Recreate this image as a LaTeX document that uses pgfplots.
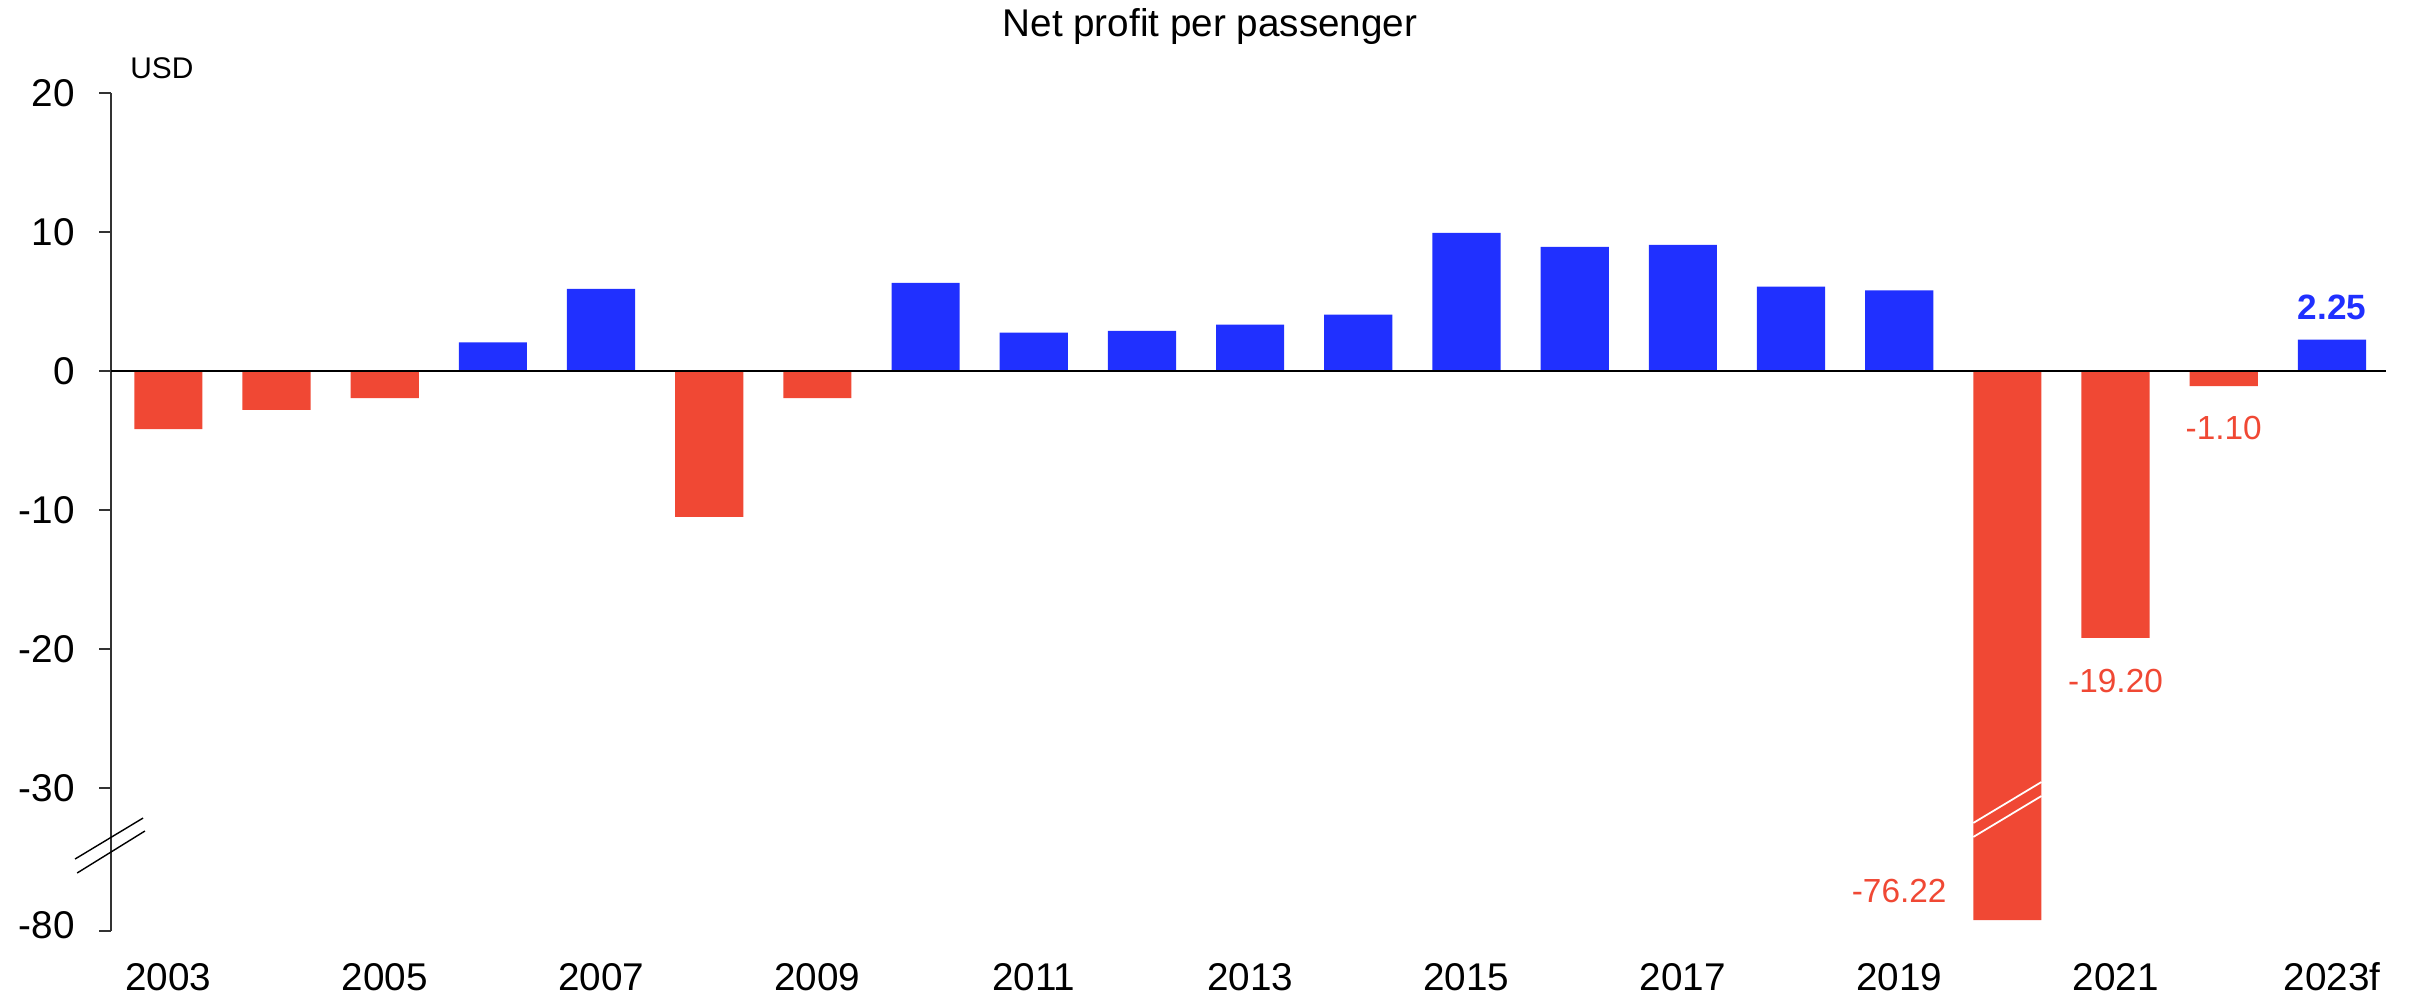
\documentclass[border=0pt]{standalone}
\usepackage{pgfplots}
\pgfplotsset{compat=1.18}
\usepackage{fontspec}
\setmainfont{Liberation Sans}
\definecolor{pblue}{RGB}{32,48,255}
\definecolor{pred}{RGB}{240,72,52}
\begin{document}
\begin{tikzpicture}
\useasboundingbox (0,0) rectangle (24.22,10.01);
\node[font=\fontsize{11pt}{13pt}\selectfont] at (12.10,9.74) {Net profit per passenger};
\node[font=\fontsize{8.5pt}{10pt}\selectfont, anchor=west] at (1.18,9.33) {USD};
\begin{axis}[
  at={(1.11cm,0.70cm)}, anchor=south west,
  scale only axis, width=22.75cm, height=8.38cm,
  xmin=-0.53, xmax=20.5,
  ymin=-80, ymax=20,
  y coord trafo/.code={\pgfmathparse{#1 < -30 ? -30+(#1+30)*0.206 : #1}},
  ytick={-80,-30,-20,-10,0,10,20},
  yticklabels={{\raisebox{0.13cm}{-80}},-30,-20,-10,0,10,20},
  xtick={0,2,...,20},
  xticklabels={2003,2005,2007,2009,2011,2013,2015,2017,2019,2021,2023f},
  axis y line=left, axis x line=bottom,
  y axis line style={-, black!80, line width=0.6pt},
  x axis line style={draw=none},
  xtick style={draw=none},
  ytick style={black!80, line width=0.6pt},
  tick align=outside, major tick length=0.12cm,
  ticklabel style={font=\fontsize{11pt}{13pt}\selectfont},
  xticklabel style={anchor=center, yshift=-0.34cm},
  yticklabel style={anchor=east, xshift=-0.12cm},
  ybar, bar width=0.63, bar shift=0pt,
  clip=false,
]
\addplot[fill=pred, draw=none] coordinates {
  (0,-4.19) (1,-2.8) (2,-1.96) (5,-10.5) (6,-1.96) (17,-76.22) (18,-19.20) (19,-1.10)
};
\addplot[fill=pblue, draw=none] coordinates {
  (3,2.05) (4,5.91) (7,6.34) (8,2.75) (9,2.89) (10,3.33) (11,4.05)
  (12,9.93) (13,8.93) (14,9.08) (15,6.06) (16,5.80) (20,2.25)
};
\draw[black, line width=0.6pt] (axis cs:-0.53,0) -- (axis cs:20.5,0);
% break marks on the y axis
\draw[black, line width=0.4pt] (rel axis cs:-0.0158,0.0859) -- (rel axis cs:0.0141,0.1348);
\draw[black, line width=0.4pt] (rel axis cs:-0.0149,0.0692) -- (rel axis cs:0.0149,0.1193);
% break marks on the 2020 bar
\draw[white, line width=0.5pt] ({axis cs:16.685,0} |- {rel axis cs:0,0.1289}) -- ({axis cs:17.315,0} |- {rel axis cs:0,0.1778});
\draw[white, line width=0.5pt] ({axis cs:16.685,0} |- {rel axis cs:0,0.1122}) -- ({axis cs:17.315,0} |- {rel axis cs:0,0.1611});
% value labels
\node[text=pred, font=\fontsize{9.5pt}{11pt}\selectfont] at (axis cs:16.0,-66) {-76.22};
\node[text=pred, font=\fontsize{9.5pt}{11pt}\selectfont] at (axis cs:18,-22.3) {-19.20};
\node[text=pred, font=\fontsize{9.5pt}{11pt}\selectfont] at (axis cs:19,-4.1) {-1.10};
\node[text=pblue, font=\bfseries\fontsize{10pt}{12pt}\selectfont] at (axis cs:20,4.55) {2.25};
\end{axis}
\end{tikzpicture}
\end{document}
